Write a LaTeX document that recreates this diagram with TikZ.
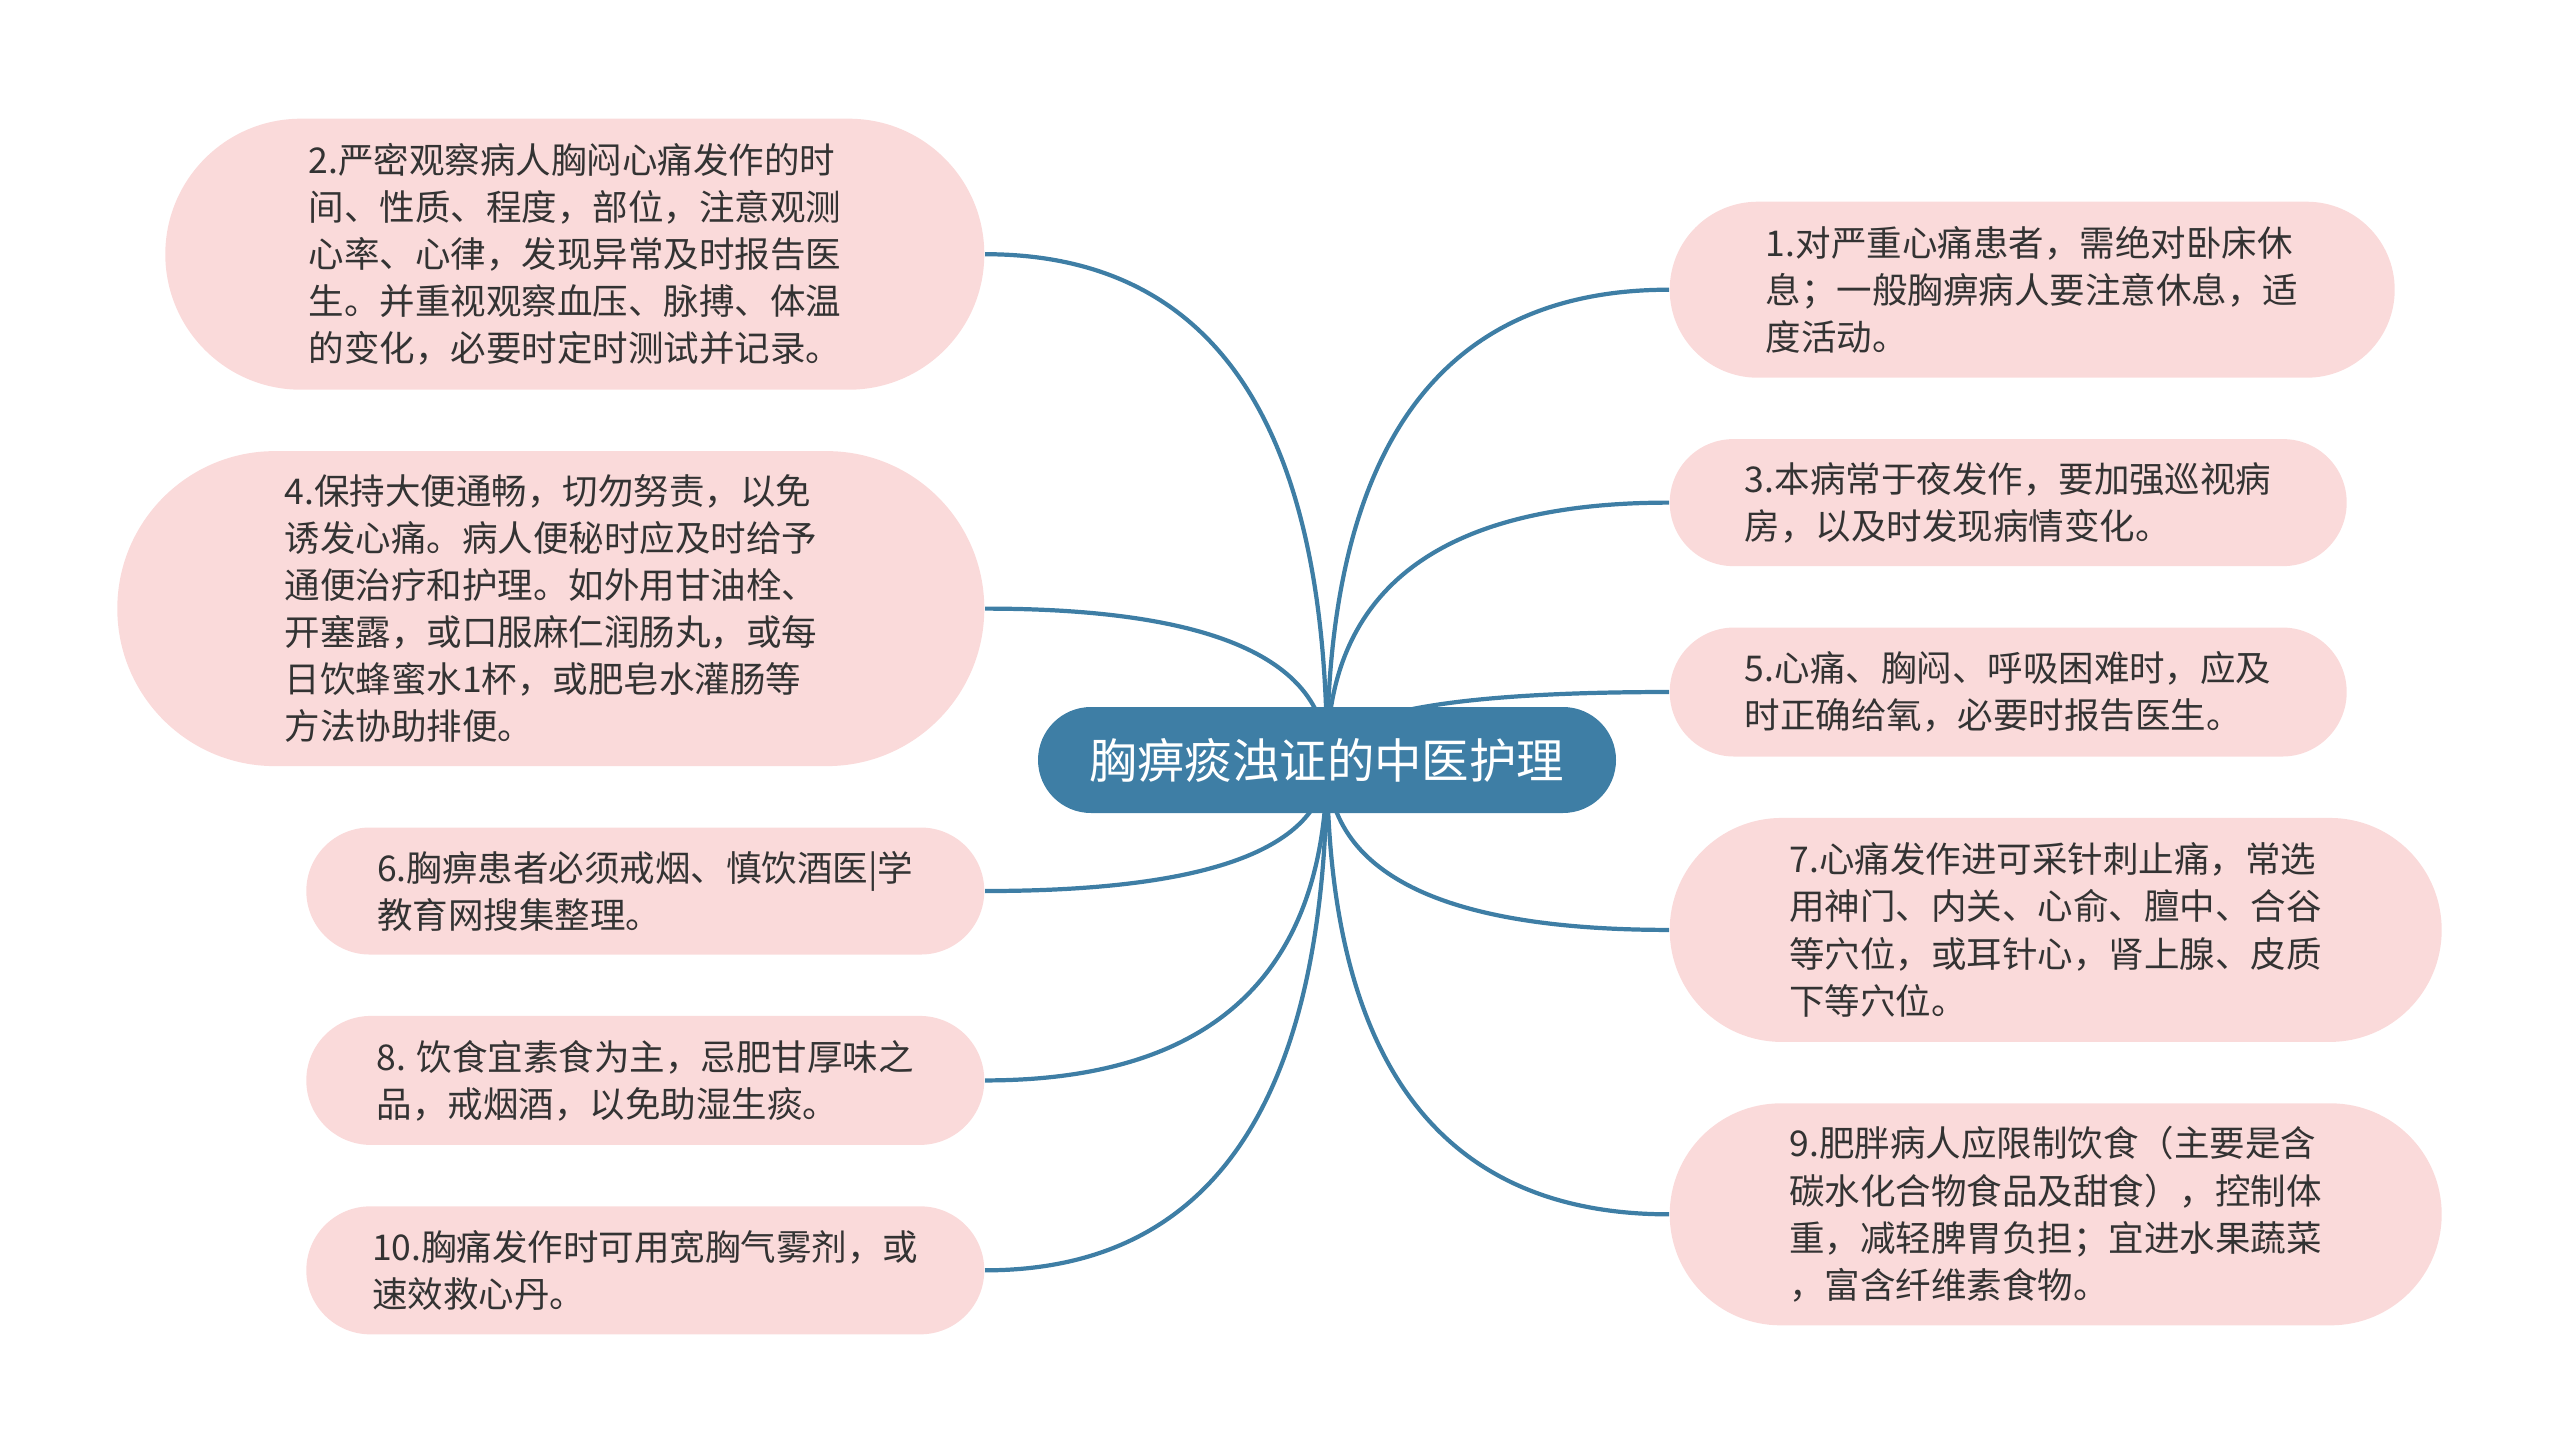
\documentclass[tikz,border=0pt]{standalone}
\usepackage{fontspec}
\setmainfont{Noto Sans CJK SC}
\usetikzlibrary{positioning,calc,backgrounds}
\definecolor{rootblue}{HTML}{3E7EA5}
\definecolor{leafpink}{HTML}{FADADA}
\definecolor{leaftext}{HTML}{333333}

\begin{document}
\begin{tikzpicture}[node distance=0.6cm,every node/.append style={align=left},
    root/.style={fill=rootblue, text=white, minimum width=5.78cm, minimum height=1.06cm, rounded corners=0.53cm, font=\fontsize{13.5}{17}\selectfont},
    leaf/.style 2 args={fill=leafpink, text=leaftext, minimum width=#1, minimum height=#2, rounded corners=#2/2, inner sep=0pt, font=\fontsize{10.1}{13.4}\selectfont},
    branch/.style={draw=rootblue, line width=1.2pt}]
    \useasboundingbox (0,0) rectangle (25.6,-14.49);

    \node [root] (root) at (13.27,-7.60) {胸痹痰浊证的中医护理};

    % right side
    \node [leaf={7.25cm}{1.76cm}, anchor=north west] (n1) at (16.69,-2.01)
        {1.对严重心痛患者，需绝对卧床休\\息；一般胸痹病人要注意休息，适\\度活动。};
    \node [leaf={6.77cm}{1.27cm}, below=of n1.south west, anchor=north west] (n3)
        {3.本病常于夜发作，要加强巡视病\\房，以及时发现病情变化。};
    \node [leaf={6.77cm}{1.29cm}, below=of n3.south west, anchor=north west] (n5)
        {5.心痛、胸闷、呼吸困难时，应及\\时正确给氧，必要时报告医生。};
    \node [leaf={7.72cm}{2.24cm}, below=of n5.south west, anchor=north west] (n7)
        {7.心痛发作进可采针刺止痛，常选\\用神门、内关、心俞、膻中、合谷\\等穴位，或耳针心，肾上腺、皮质\\下等穴位。};
    \node [leaf={7.72cm}{2.22cm}, below=of n7.south west, anchor=north west] (n9)
        {9.肥胖病人应限制饮食（主要是含\\碳水化合物食品及甜食），控制体\\重，减轻脾胃负担；宜进水果蔬菜\\，富含纤维素食物。};

    % left side
    \node [leaf={8.19cm}{2.71cm}, anchor=north east] (n2) at (9.85,-1.18)
        {2.严密观察病人胸闷心痛发作的时\\间、性质、程度，部位，注意观测\\心率、心律，发现异常及时报告医\\生。并重视观察血压、脉搏、体温\\的变化，必要时定时测试并记录。};
    \node [leaf={8.67cm}{3.15cm}, below=of n2.south east, anchor=north east] (n4)
        {4.保持大便通畅，切勿努责，以免\\诱发心痛。病人便秘时应及时给予\\通便治疗和护理。如外用甘油栓、\\开塞露，或口服麻仁润肠丸，或每\\日饮蜂蜜水1杯，或肥皂水灌肠等\\方法协助排便。};
    \node [leaf={6.78cm}{1.27cm}, below=of n4.south east, anchor=north east] (n6)
        {6.胸痹患者必须戒烟、慎饮酒医|学\\教育网搜集整理。};
    \node [leaf={6.78cm}{1.29cm}, below=of n6.south east, anchor=north east] (n8)
        {8. 饮食宜素食为主，忌肥甘厚味之\\品，戒烟酒，以免助湿生痰。};
    \node [leaf={6.78cm}{1.28cm}, below=of n8.south east, anchor=north east] (n10)
        {10.胸痛发作时可用宽胸气雾剂，或\\速效救心丹。};

    \begin{scope}[on background layer]
    \foreach \n/\a in {n1/west,n3/west,n5/west,n7/west,n9/west,n2/east,n4/east,n6/east,n8/east,n10/east}
        \draw [branch] (root.center) .. controls ($(root.center)!0.667!(root.center |- \n.\a)$)
            and ($(\n.\a)!0.667!(root.center |- \n.\a)$) .. (\n.\a);
    \end{scope}
\end{tikzpicture}
\end{document}
